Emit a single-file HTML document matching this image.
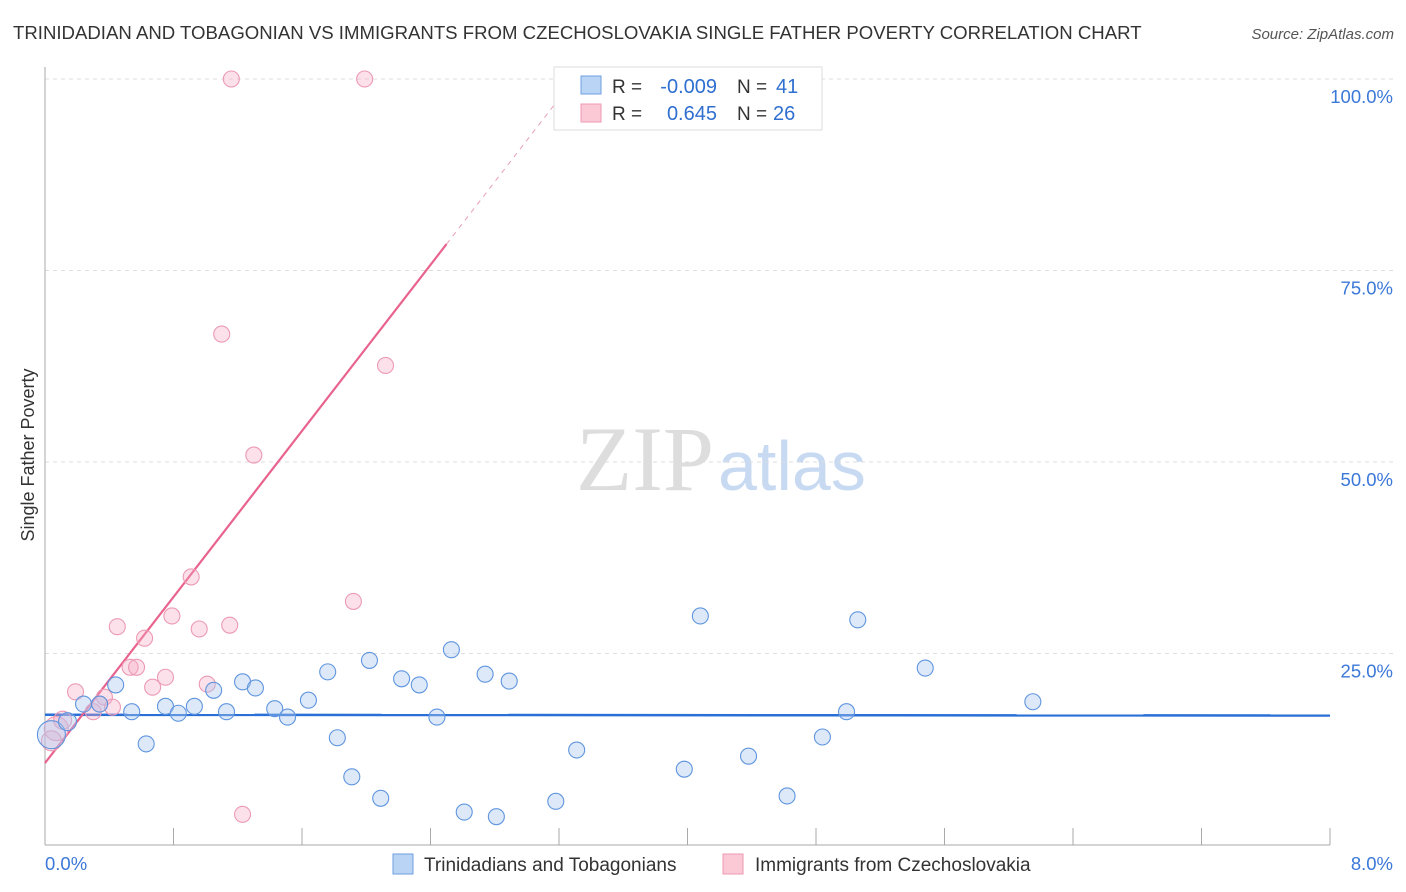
<!DOCTYPE html>
<html><head><meta charset="utf-8"><style>
body{margin:0;background:#fff;font-family:"Liberation Sans",sans-serif;}
svg{display:block}
</style></head><body>
<svg id="chart" width="1406" height="892">
<text x="13" y="39" font-size="18.6" fill="#333">TRINIDADIAN AND TOBAGONIAN VS IMMIGRANTS FROM CZECHOSLOVAKIA SINGLE FATHER POVERTY CORRELATION CHART</text>
<text x="1394" y="39" font-size="15" fill="#555" font-style="italic" text-anchor="end">Source: ZipAtlas.com</text>
<text x="714" y="490" font-size="92" fill="#ddd" text-anchor="end" font-family="Liberation Serif,serif">ZIP</text>
<text x="718" y="490" font-size="70" fill="#c8daf2">atlas</text>
<text transform="translate(34,455) rotate(-90)" font-size="18" fill="#333" text-anchor="middle">Single Father Poverty</text>
<g id="grid"></g><g id="axes"></g><g id="lines"></g><g id="pts"></g>
<g>
<rect x="554" y="67" width="268" height="63" fill="#fff" stroke="#ddd"/>
<rect x="581" y="76" width="20" height="18" fill="#b9d4f5" stroke="#6e9fe0"/>
<rect x="581" y="104" width="20" height="18" fill="#fbc8d6" stroke="#ee9ab3"/>
<text x="612" y="93" font-size="19" fill="#333">R =</text>
<text x="717" y="93" font-size="20" fill="#2f6fd0" text-anchor="end">-0.009</text>
<text x="737" y="93" font-size="19" fill="#333">N =</text>
<text x="776" y="93" font-size="20" fill="#2f6fd0">41</text>
<text x="612" y="120" font-size="19" fill="#333">R =</text>
<text x="717" y="120" font-size="20" fill="#2f6fd0" text-anchor="end">0.645</text>
<text x="737" y="120" font-size="19" fill="#333">N =</text>
<text x="773" y="120" font-size="20" fill="#2f6fd0">26</text>
</g>
<g>
<rect x="393" y="854" width="20" height="20" fill="#b9d4f5" stroke="#6e9fe0"/>
<text x="424" y="871" font-size="19" fill="#333">Trinidadians and Tobagonians</text>
<rect x="723" y="854" width="20" height="20" fill="#fbc8d6" stroke="#ee9ab3"/>
<text x="755" y="871" font-size="19" fill="#333">Immigrants from Czechoslovakia</text>
</g>
</svg>
<script>
const blueX=[0.04,0.14,0.24,0.34,0.44,0.54,0.63,0.75,0.83,0.93,1.05,1.13,1.23,1.31,1.43,1.51,1.64,1.76,1.82,1.91,2.02,2.09,2.22,2.33,2.44,2.53,2.61,2.74,2.81,2.89,3.18,3.31,3.98,4.08,4.38,4.62,4.84,4.99,5.06,5.48,6.15];
const blueY=[14.4,16.1,18.4,18.4,20.9,17.4,13.2,18.1,17.2,18.1,20.2,17.4,21.3,20.5,17.8,16.7,18.9,22.6,14.0,8.9,24.1,6.1,21.7,20.9,16.7,25.5,4.3,22.3,3.7,21.4,5.7,12.4,9.9,29.9,11.6,6.4,14.1,17.4,29.4,23.1,18.7];
const blueR=[14,9,8,8,8,8,8,8,8,8,8,8,8,8,8,8,8,8,8,8,8,8,8,8,8,8,8,8,8,8,8,8,8,8,8,8,8,8,8,8,8];
const pinkX=[1.16,1.99,1.10,2.12,1.30,0.91,1.92,0.79,0.45,0.62,0.96,1.15,0.53,0.57,0.75,0.67,1.01,0.19,0.37,0.42,0.30,1.23,0.07,0.04,0.11,0.34];
const pinkY=[100,100,66.7,62.6,50.9,35.0,31.8,29.9,28.5,27.0,28.2,28.7,23.2,23.2,21.9,20.6,21.0,20.0,19.3,18.0,17.4,4.0,15.2,13.6,16.3,18.4];
const pinkR=[8,8,8,8,8,8,8,8,8,8,8,8,8,8,8,8,8,8,8,8,8,8,12,10,9,8];
const yTicks=[25,50,75,100];
const xTickLabels=["0.0%","8.0%"];
const blueLine=[17.0,16.9];
const pinkLine=[10.7,27.1];
const sx=v=>45+v/8*1285, sy=v=>845-v*7.66;
const NS="http://www.w3.org/2000/svg";
function mk(t,a,p){const e=document.createElementNS(NS,t);for(const k in a)e.setAttribute(k,a[k]);document.getElementById(p).appendChild(e);return e;}
yTicks.forEach(v=>{
 const l=mk('line',{x1:45,x2:1394,y1:sy(v),y2:sy(v),stroke:'#ddd','stroke-dasharray':'4,4'},'grid');
 
 
 const t=mk('text',{x:1393,y:sy(v)+24,'font-size':18.5,fill:'#3b78d8','text-anchor':'end'},'grid');
 t.textContent=v.toFixed(1)+'%';
 
 
});
const ax=mk('line',{x1:45,x2:45,y1:67,y2:845,stroke:'#aaa'},'axes');


const bx=mk('line',{x1:45,x2:1330,y1:845,y2:845,stroke:'#aaa'},'axes');


for(let i=0;i<=10;i++){const t=mk('line',{x1:sx(i*0.8),x2:sx(i*0.8),y1:828,y2:845,stroke:'#aaa'},'axes');
 
 }
xTickLabels.forEach((s,i)=>{const t=mk('text',{x:i?1393:45,y:870,'font-size':18.5,fill:'#3b78d8','text-anchor':i?'end':'start'},'axes');t.textContent=s;
 
 });
const bl=mk('line',{x1:sx(0),x2:sx(8),y1:sy(blueLine[0]),y2:sy(blueLine[1]),stroke:'#2a6fd6','stroke-width':2.5},'lines');


const pe=v=>pinkLine[0]+pinkLine[1]*v;
const pl=mk('line',{x1:sx(0),x2:sx(2.5),y1:sy(pe(0)),y2:sy(pe(2.5)),stroke:'#e8638e','stroke-width':2.2},'lines');


const pd=mk('line',{x1:sx(2.5),x2:sx(3.3),y1:sy(pe(2.5)),y2:sy(pe(3.3)),stroke:'#e8a0b8','stroke-width':1,'stroke-dasharray':'5,5'},'lines');


pinkX.forEach((x,i)=>{const c=mk('circle',{cx:sx(x),cy:sy(pinkY[i]),r:pinkR[i],fill:'rgba(246,170,195,0.35)',stroke:'#ec9ab4','stroke-width':1.1},'pts');
 
 });
blueX.forEach((x,i)=>{const c=mk('circle',{cx:sx(x),cy:sy(blueY[i]),r:blueR[i],fill:'rgba(170,200,240,0.4)',stroke:'#5f95de','stroke-width':1.1},'pts');
 
 });
</script>
</body></html>
